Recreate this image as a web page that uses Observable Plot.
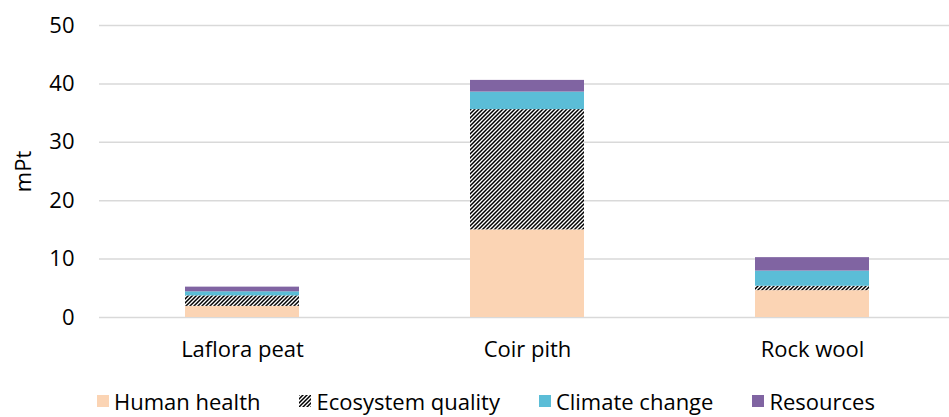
<!DOCTYPE html>
<html>
<head>
<meta charset="utf-8">
<script src="https://cdn.jsdelivr.net/npm/d3@7"></script>
<script src="https://cdn.jsdelivr.net/npm/@observablehq/plot@0.6"></script>
<style>
  html, body { margin: 0; padding: 0; background: #fff; }
  body { width: 949px; height: 417px; overflow: hidden; font-family: "Open Sans", Lato, sans-serif; }
  #legend { position: relative; height: 32px; display: flex; align-items: center; padding-left: 97px; font-size: 22px; color: #000; }
  .item { display: flex; align-items: center; margin-right: 39px; }
  .sw { width: 12px; height: 12px; margin-right: 5px; display: inline-block; }
</style>
</head>
<body>
<div id="chart"></div>
<div id="legend"></div>
<script>
const categories = ["Laflora peat", "Coir pith", "Rock wool"];
const impacts = ["Human health", "Ecosystem quality", "Climate change", "Resources"];
const humanHealth = [1.9, 15.0, 4.6];
const ecosystemQuality = [1.8, 20.6, 0.75];
const climateChange = [0.7, 3.0, 2.6];
const resources = [0.8, 2.0, 2.3];
const yTicks = [0, 10, 20, 30, 40, 50];
const colors = ["#fbd4b4", "url(#hatch)", "#5bbdd7", "#8064a2"];

const series = [humanHealth, ecosystemQuality, climateChange, resources];
const rows = [];
categories.forEach((c, i) => {
  impacts.forEach((imp, j) => rows.push({category: c, impact: imp, value: series[j][i]}));
});

const W = 949, H = 385;
const plot = Plot.plot({
  width: W,
  height: H,
  marginLeft: 99,
  marginRight: 0,
  marginTop: 25,
  marginBottom: 68,
  style: {fontFamily: "'Open Sans', Lato, sans-serif", fontSize: "22px", color: "#000", background: "#fff", overflow: "visible"},
  x: {domain: categories, range: [99, 955.5], paddingInner: 0.6, paddingOuter: 0.3, label: null},
  y: {domain: [0, 50], ticks: yTicks, label: "mPt"},
  color: {domain: impacts, range: colors},
  marks: [
    Plot.ruleY(yTicks, {stroke: "#d9d9d9", strokeWidth: 1.5}),
    Plot.axisY({ticks: yTicks, tickSize: 0, tickPadding: 25, label: "mPt", labelAnchor: "center", labelArrow: "none", labelOffset: 84, fontSize: 22}),
    Plot.axisX({tickSize: 0, tickPadding: 24, fontSize: 22, label: null}),
    Plot.barY(rows, {x: "category", y: "value", fill: "impact", order: impacts})
  ]
});

const defs = d3.select(plot).insert("defs", ":first-child");
const pat = defs.append("pattern").attr("id", "hatch").attr("patternUnits", "userSpaceOnUse")
  .attr("width", 4).attr("height", 4);
pat.append("rect").attr("width", 4).attr("height", 4).attr("fill", "#fff");
pat.append("path").attr("d", "M-1,1 L1,-1 M0,4 L4,0 M3,5 L5,3").attr("stroke", "#000").attr("stroke-width", 1.5);

document.getElementById("chart").appendChild(plot);

const legend = d3.select("#legend");
impacts.forEach((imp, j) => {
  const it = legend.append("div").attr("class", "item");
  const sw = it.append("svg").attr("class", "sw").attr("width", 12).attr("height", 12);
  sw.append("rect").attr("width", 12).attr("height", 12).attr("fill", colors[j]);
  it.append("span").text(imp);
});
</script>
</body>
</html>
